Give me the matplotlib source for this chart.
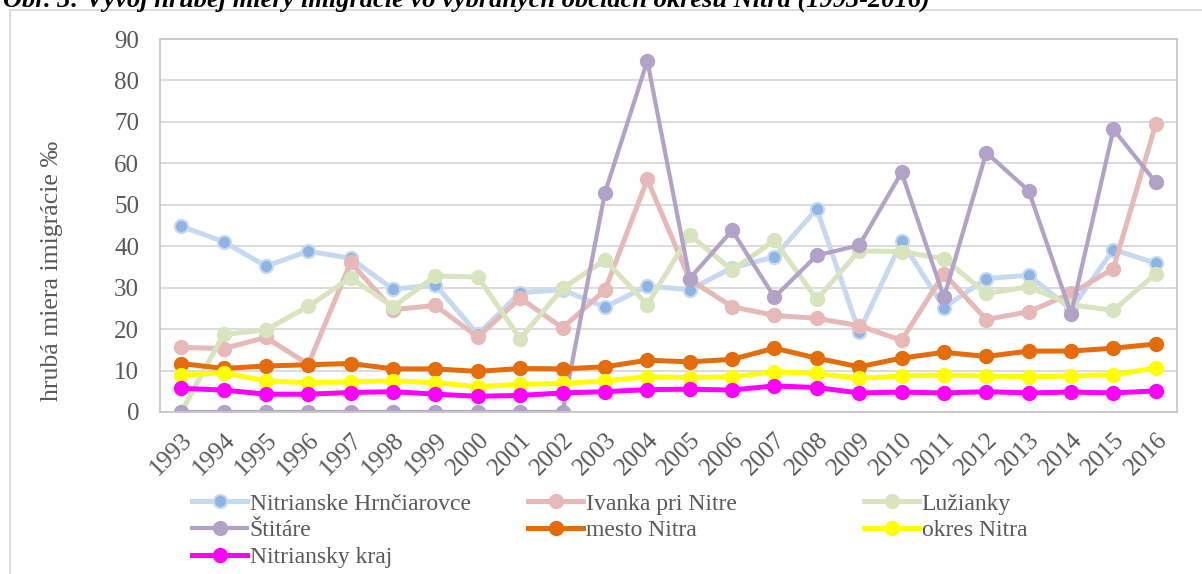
import matplotlib.pyplot as plt
from matplotlib.patches import Rectangle

years = [str(y) for y in range(1993, 2017)]

hrnciarovce = [44.8, 41.1, 35.2, 38.8, 37.1, 29.6, 30.7, 18.7, 28.8, 29.5, 25.3, 30.4,
               29.5, 34.8, 37.4, 49.0, 19.3, 41.2, 25.2, 32.2, 33.0, 24.8, 39.2, 35.9]
ivanka = [15.6, 15.3, 18.0, 11.5, 36.1, 24.7, 25.7, 18.1, 27.5, 20.3, 29.4, 56.1,
          32.0, 25.4, 23.3, 22.6, 20.8, 17.3, 33.4, 22.3, 24.2, 28.6, 34.6, 69.5]
luzianky = [0.0, 18.7, 19.8, 25.5, 32.4, 25.4, 32.8, 32.6, 17.7, 29.8, 36.7, 25.9,
            42.8, 34.2, 41.4, 27.2, 38.9, 38.7, 37.0, 28.6, 30.2, 25.9, 24.5, 33.4]
stitare = [0, 0, 0, 0, 0, 0, 0, 0, 0, 0, 52.9, 84.7,
           32.2, 43.8, 27.7, 37.8, 40.2, 57.8, 27.7, 62.6, 53.4, 23.7, 68.2, 55.4]
mesto = [11.7, 10.5, 11.1, 11.4, 11.7, 10.4, 10.4, 9.8, 10.5, 10.4, 10.9, 12.5,
         12.1, 12.7, 15.4, 13.0, 10.9, 13.0, 14.4, 13.4, 14.7, 14.7, 15.4, 16.4]
okres = [8.9, 9.5, 7.5, 7.1, 7.3, 7.5, 7.1, 6.1, 6.7, 6.9, 7.5, 8.5,
         8.3, 8.5, 9.7, 9.3, 8.1, 8.7, 8.9, 8.7, 8.5, 8.7, 9.0, 10.6]
kraj = [5.7, 5.3, 4.3, 4.3, 4.7, 4.9, 4.3, 3.8, 4.0, 4.6, 4.9, 5.4,
        5.5, 5.3, 6.3, 5.9, 4.6, 4.8, 4.6, 4.9, 4.6, 4.8, 4.6, 5.1]

series = [
    ('Nitrianske Hrnčiarovce', hrnciarovce, '#c6d9f1', '#8db4e2', 3.6),
    ('Ivanka pri Nitre', ivanka, '#e6b9b8', '#e6b9b8', 3.6),
    ('Lužianky', luzianky, '#d7e4bd', '#d7e4bd', 3.6),
    ('Štitáre', stitare, '#b3a2c7', '#b3a2c7', 3.0),
    ('mesto Nitra', mesto, '#e46c0a', '#e46c0a', 3.6),
    ('okres Nitra', okres, '#ffff00', '#ffff00', 3.6),
    ('Nitriansky kraj', kraj, '#ff00ff', '#ff00ff', 3.6),
]

plt.rcParams['font.family'] = ['Liberation Serif', 'DejaVu Serif']
txt = '#595959'

fig = plt.figure(figsize=(12.02, 5.74), dpi=100)
ax = fig.add_axes([160 / 1202, 1 - 412 / 574, 1017 / 1202, 373 / 574])

x = list(range(len(years)))
handles = {}
for name, vals, lc, mc, lw in series:
    h, = ax.plot(x, vals, '-o', color=lc, lw=lw, markersize=9.5,
                 markerfacecolor=mc, markeredgecolor=lc, markeredgewidth=1.5,
                 label=name, solid_joinstyle='round')
    handles[name] = h

ax.set_xlim(-0.5, len(years) - 0.5)
ax.set_ylim(0, 90)
ax.set_yticks(range(0, 91, 10))
ax.set_xticks(x)
ax.set_xticklabels(years, rotation=45, ha='right', va='top', rotation_mode='anchor')
ax.tick_params(length=0, labelsize=18, labelcolor=txt)
ax.tick_params(axis='x', pad=12)
ax.tick_params(axis='y', pad=15)
ax.grid(axis='y', color='#d9d9d9', lw=1.3)
ax.set_axisbelow(True)
for s in ax.spines.values():
    s.set_color('#c8c8c8')
    s.set_linewidth(1.3)
ax.set_ylabel('hrubá miera imigrácie ‰', fontsize=18.5, color=txt)
ax.yaxis.set_label_coords(-0.095, 0.378)

# legend in three equal columns, like the original
cols = [
    (['Nitrianske Hrnčiarovce', 'Štitáre', 'Nitriansky kraj'], 192),
    (['Ivanka pri Nitre', 'mesto Nitra'], 528),
    (['Lužianky', 'okres Nitra'], 864),
]
for names, xpix in cols:
    fig.legend([handles[n] for n in names], names, loc='upper left',
               bbox_to_anchor=(xpix / 1202, 1 - 493 / 574), frameon=False,
               fontsize=17, labelcolor=txt, handlelength=2.35, handletextpad=0.1,
               labelspacing=0.22, borderpad=0, borderaxespad=0)

fig.add_artist(Rectangle((10 / 1202, -0.1), 1.2, 1 - 10 / 574 + 0.1,
                         transform=fig.transFigure, fill=False,
                         edgecolor='#d9d9d9', lw=1.3))
fig.text(3 / 1202, 1 - 7 / 574,
         'Obr. 3: Vývoj hrubej miery imigrácie vo vybraných obciach okresu Nitra (1993-2016)',
         fontsize=19, fontweight='bold', fontstyle='italic', va='baseline', ha='left',
         color='#000000')

fig.savefig('out.png', dpi=100)
